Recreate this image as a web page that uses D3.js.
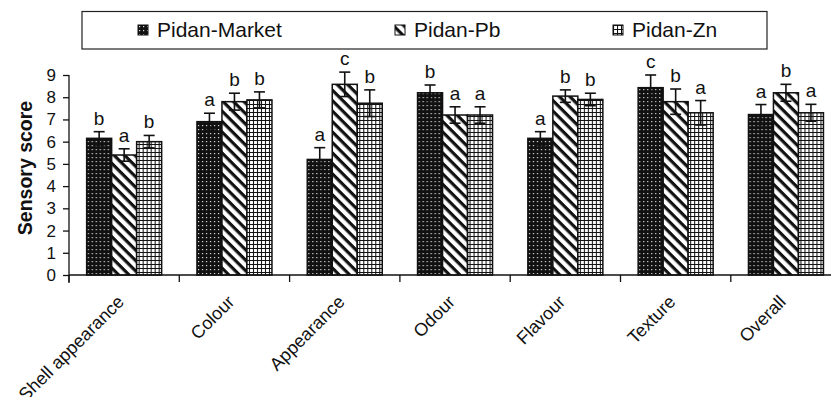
<!DOCTYPE html>
<html>
<head>
<meta charset="utf-8">
<script src="https://cdn.jsdelivr.net/npm/d3@7"></script>
<style>
  html, body { margin: 0; padding: 0; background: #fff; }
  svg { display: block; font-family: "Liberation Sans", Arial, sans-serif; }
</style>
</head>
<body>
<svg id="chart" width="831" height="397"></svg>
<script>
// Sensory attributes scored by the panel
const categories = ["Shell appearance", "Colour", "Appearance", "Odour", "Flavour", "Texture", "Overall"];
const seriesNames = ["Pidan-Market", "Pidan-Pb", "Pidan-Zn"];

// Mean scores per sample
const market = [6.15, 6.9, 5.2, 8.2, 6.15, 8.43, 7.22];
const pb     = [5.4, 7.8, 8.58, 7.2, 8.05, 7.8, 8.2];
const zn     = [6.0, 7.88, 7.73, 7.2, 7.9, 7.3, 7.3];

// Standard deviations
const marketSd = [0.3, 0.38, 0.53, 0.35, 0.3, 0.57, 0.45];
const pbSd     = [0.28, 0.38, 0.55, 0.37, 0.28, 0.57, 0.38];
const znSd     = [0.28, 0.36, 0.6, 0.37, 0.28, 0.55, 0.38];

// Significance letters
const marketSig = ["b", "a", "a", "b", "a", "c", "a"];
const pbSig     = ["a", "b", "c", "a", "b", "b", "b"];
const znSig     = ["b", "b", "b", "a", "b", "a", "a"];

const yTicks = [0, 1, 2, 3, 4, 5, 6, 7, 8, 9];

const svg = d3.select("#chart");
const defs = svg.append("defs");

// Dotted black fill
const pDots = defs.append("pattern").attr("id", "pat-dots")
  .attr("patternUnits", "userSpaceOnUse").attr("width", 4).attr("height", 4);
pDots.append("rect").attr("width", 4).attr("height", 4).attr("fill", "#111");
pDots.append("rect").attr("x", 1).attr("y", 1).attr("width", 1.2).attr("height", 1.2).attr("fill", "#ddd");

// Wide downward diagonal stripes
const pDiag = defs.append("pattern").attr("id", "pat-diag")
  .attr("patternUnits", "userSpaceOnUse").attr("width", 7.4).attr("height", 7.4)
  .attr("patternTransform", "rotate(45)");
pDiag.append("rect").attr("width", 7.4).attr("height", 7.4).attr("fill", "#fff");
pDiag.append("rect").attr("width", 7.4).attr("height", 3.2).attr("fill", "#111");

// Small square grid
const pGrid = defs.append("pattern").attr("id", "pat-grid")
  .attr("patternUnits", "userSpaceOnUse").attr("width", 4).attr("height", 4);
pGrid.append("rect").attr("width", 4).attr("height", 4).attr("fill", "#fff");
pGrid.append("path").attr("d", "M0,0.5H4M0.5,0V4").attr("stroke", "#111").attr("stroke-width", 1.1);

const fills = ["url(#pat-dots)", "url(#pat-diag)", "url(#pat-grid)"];

const margin = { left: 69, top: 75, bottom: 275 };
const x0 = d3.scaleBand().domain(categories).range([margin.left, margin.left + 7 * 110.3]).paddingInner(0).paddingOuter(0);
const groupWidth = 75;
const x1 = d3.scaleBand().domain(seriesNames).range([0, groupWidth]).padding(0);
const y = d3.scaleLinear().domain([0, 9]).range([margin.bottom, margin.top]);

const rows = categories.map((c, i) => ({
  cat: c,
  vals: [
    { s: seriesNames[0], v: market[i], sd: marketSd[i], sig: marketSig[i] },
    { s: seriesNames[1], v: pb[i], sd: pbSd[i], sig: pbSig[i] },
    { s: seriesNames[2], v: zn[i], sd: znSd[i], sig: znSig[i] }
  ]
}));

const groups = svg.append("g").selectAll("g").data(rows).join("g")
  .attr("transform", d => `translate(${x0(d.cat) + (x0.bandwidth() - groupWidth) / 2},0)`);

groups.selectAll("rect").data(d => d.vals).join("rect")
  .attr("x", d => x1(d.s))
  .attr("y", d => y(d.v))
  .attr("width", x1.bandwidth())
  .attr("height", d => y(0) - y(d.v))
  .attr("fill", (d, i) => fills[i])
  .attr("stroke", "#111")
  .attr("stroke-width", 1.5);

// Error bars
const eb = groups.selectAll("g.err").data(d => d.vals).join("g").attr("class", "err")
  .attr("transform", d => `translate(${x1(d.s) + x1.bandwidth() / 2},0)`)
  .attr("stroke", "#111").attr("stroke-width", 1.6);
eb.append("line").attr("y1", d => y(d.v + d.sd)).attr("y2", d => y(d.v - d.sd));
eb.append("line").attr("x1", -5.5).attr("x2", 5.5).attr("y1", d => y(d.v + d.sd)).attr("y2", d => y(d.v + d.sd));
eb.append("line").attr("x1", -5.5).attr("x2", 5.5).attr("y1", d => y(d.v - d.sd)).attr("y2", d => y(d.v - d.sd));

// Significance letters
groups.selectAll("text.sig").data(d => d.vals).join("text").attr("class", "sig")
  .attr("x", d => x1(d.s) + x1.bandwidth() / 2)
  .attr("y", d => y(d.v + d.sd) - 7)
  .attr("text-anchor", "middle")
  .attr("font-size", 19)
  .attr("fill", "#111")
  .text(d => d.sig);

// Y axis
const yAxis = svg.append("g").attr("transform", `translate(${margin.left},0)`)
  .call(d3.axisLeft(y).tickValues(yTicks).tickFormat(d3.format("d")).tickSize(6).tickPadding(7));
yAxis.select(".domain").attr("stroke", "#111").attr("stroke-width", 1.3).attr("d", `M0,${y(9)}V${y(0) + 8}`);
yAxis.selectAll(".tick line").attr("stroke", "#111").attr("stroke-width", 1.3);
yAxis.selectAll(".tick text").attr("font-size", 17).attr("fill", "#111")
  .attr("font-family", "Liberation Sans, Arial, sans-serif");

// X axis with ticks at category boundaries
const xAxis = svg.append("g").attr("transform", `translate(0,${y(0)})`);
xAxis.append("line").attr("x1", margin.left).attr("x2", 831).attr("stroke", "#111").attr("stroke-width", 1.3);
xAxis.selectAll("line.tk").data(categories).join("line").attr("class", "tk")
  .attr("x1", d => x0(d)).attr("x2", d => x0(d)).attr("y1", 0).attr("y2", 7)
  .attr("stroke", "#111").attr("stroke-width", 1.3);
xAxis.selectAll("text").data(categories).join("text")
  .attr("transform", d => `translate(${x0(d) + x0.bandwidth() / 2 + 1},${28}) rotate(-45)`)
  .attr("text-anchor", "end")
  .attr("font-size", 18)
  .attr("fill", "#111")
  .text(d => d);

// Y axis title
svg.append("text")
  .attr("transform", `translate(32,${168}) rotate(-90)`)
  .attr("text-anchor", "middle")
  .attr("font-size", 19.5)
  .attr("font-weight", "bold")
  .attr("fill", "#111")
  .text("Sensory score");

// Legend
const legend = svg.append("g");
legend.append("rect").attr("x", 82).attr("y", 11.5).attr("width", 685).attr("height", 37.5)
  .attr("fill", "#fff").attr("stroke", "#222").attr("stroke-width", 1.2);
const legendX = [138, 395, 613];
const li = legend.selectAll("g.item").data(seriesNames).join("g").attr("class", "item")
  .attr("transform", (d, i) => `translate(${legendX[i]},25)`);
li.append("rect").attr("width", 10).attr("height", 10)
  .attr("fill", (d, i) => fills[i]).attr("stroke", "#111").attr("stroke-width", 1);
li.append("text").attr("x", 19).attr("y", 12).attr("font-size", 21).attr("fill", "#111").text(d => d);
</script>
</body>
</html>
